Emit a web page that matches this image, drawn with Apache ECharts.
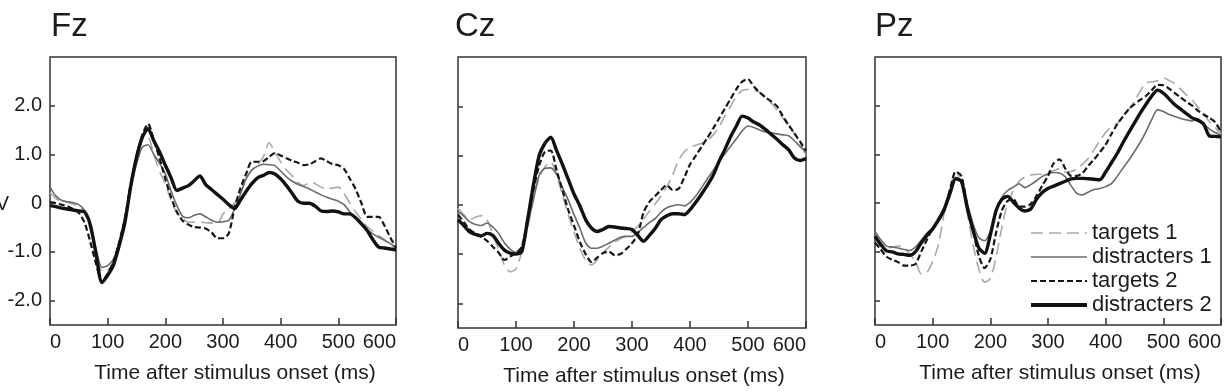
<!DOCTYPE html>
<html>
<head>
<meta charset="utf-8">
<script src="https://cdn.jsdelivr.net/npm/echarts@6/dist/echarts.min.js"></script>
<style>
  html, body { margin: 0; padding: 0; background: #fff; }
  #chart { width: 1224px; height: 392px; }
</style>
</head>
<body>
<div id="chart"></div>
<script>
// 时间轴（ms），每 10ms 一个采样点
const times = [];
for (let t = 0; t <= 600; t += 10) times.push(t);

const panels = ["Fz", "Cz", "Pz"];
const seriesNames = ["targets 1", "distracters 1", "targets 2", "distracters 2"];
const yTicks = [-2, -1, 0, 1, 2];

// Fz
const fzTargets1 = [0.22,0.1,0.04,0.02,-0.02,-0.06,-0.2,-0.55,-1.0,-1.4,-1.38,-1.2,-0.8,-0.25,0.35,0.85,1.3,1.35,1.0,0.65,0.4,0.05,-0.2,-0.32,-0.39,-0.39,-0.39,-0.4,-0.41,-0.42,-0.22,-0.12,0.0,0.2,0.5,0.68,0.8,0.95,1.24,1.05,0.85,0.68,0.56,0.42,0.36,0.42,0.4,0.33,0.29,0.31,0.33,0.2,0.0,-0.18,-0.33,-0.48,-0.58,-0.66,-0.75,-0.85,-0.96];
const fzDistracters1 = [0.33,0.15,0.06,0.03,0.01,-0.03,-0.15,-0.45,-0.95,-1.32,-1.28,-1.15,-0.8,-0.3,0.3,0.8,1.15,1.2,1.0,0.82,0.6,0.25,-0.05,-0.27,-0.3,-0.25,-0.22,-0.28,-0.35,-0.39,-0.38,-0.35,-0.12,0.18,0.5,0.68,0.76,0.8,0.79,0.77,0.66,0.54,0.45,0.39,0.34,0.29,0.23,0.17,0.12,0.08,0.04,-0.03,-0.18,-0.32,-0.45,-0.55,-0.63,-0.7,-0.76,-0.83,-0.9];
const fzTargets2 = [0.02,0.0,-0.03,-0.06,-0.12,-0.2,-0.4,-0.8,-1.25,-1.6,-1.45,-1.2,-0.8,-0.3,0.4,0.95,1.4,1.63,1.3,0.92,0.5,0.12,-0.18,-0.36,-0.44,-0.49,-0.5,-0.52,-0.6,-0.72,-0.72,-0.62,-0.1,0.3,0.6,0.85,0.85,0.86,0.95,1.03,0.98,0.92,0.87,0.83,0.78,0.8,0.86,0.92,0.86,0.8,0.78,0.7,0.5,0.29,0.0,-0.28,-0.28,-0.28,-0.46,-0.7,-0.92];
const fzDistracters2 = [-0.05,-0.07,-0.1,-0.12,-0.14,-0.16,-0.18,-0.45,-1.05,-1.63,-1.48,-1.27,-0.87,-0.39,0.35,0.94,1.35,1.53,1.28,1.05,0.78,0.52,0.26,0.31,0.36,0.46,0.56,0.38,0.28,0.18,0.08,-0.03,-0.11,0.06,0.24,0.4,0.52,0.57,0.63,0.6,0.5,0.36,0.2,0.04,0.0,0.0,-0.06,-0.16,-0.17,-0.16,-0.18,-0.22,-0.22,-0.3,-0.42,-0.56,-0.75,-0.9,-0.92,-0.94,-0.96];

// Cz
const czTargets1 = [-0.07,-0.2,-0.3,-0.25,-0.22,-0.3,-0.6,-0.9,-1.22,-1.36,-1.3,-0.95,-0.48,0.12,0.55,0.77,0.87,0.6,0.2,-0.2,-0.55,-0.88,-1.12,-1.22,-1.12,-0.97,-0.86,-0.76,-0.69,-0.63,-0.55,-0.43,-0.29,-0.13,0.02,0.18,0.37,0.6,0.9,1.07,1.17,1.21,1.25,1.31,1.42,1.58,1.8,2.0,2.2,2.32,2.34,2.32,2.29,2.2,2.07,1.92,1.76,1.6,1.45,1.25,1.0];
const czDistracters1 = [-0.13,-0.23,-0.34,-0.4,-0.42,-0.37,-0.45,-0.58,-0.77,-0.9,-0.97,-0.9,-0.4,0.1,0.6,0.74,0.75,0.62,0.35,0.1,-0.2,-0.47,-0.77,-0.88,-0.88,-0.84,-0.78,-0.72,-0.66,-0.64,-0.64,-0.56,-0.46,-0.36,-0.28,-0.15,-0.06,-0.02,0.0,-0.02,0.05,0.18,0.35,0.53,0.7,0.88,1.03,1.19,1.34,1.5,1.6,1.57,1.52,1.48,1.46,1.44,1.42,1.4,1.3,1.18,1.07];
const czTargets2 = [-0.2,-0.35,-0.5,-0.58,-0.65,-0.73,-0.85,-0.97,-1.12,-1.05,-0.98,-0.85,-0.3,0.3,0.8,1.08,1.1,0.7,0.3,-0.1,-0.42,-0.75,-1.0,-1.16,-1.07,-0.98,-0.95,-1.02,-1.0,-0.9,-0.78,-0.6,-0.15,0.06,0.18,0.3,0.4,0.3,0.32,0.55,0.82,1.0,1.18,1.36,1.55,1.75,1.95,2.15,2.35,2.5,2.55,2.4,2.28,2.18,2.1,2.0,1.8,1.62,1.45,1.28,1.1];
const czDistracters2 = [-0.3,-0.42,-0.55,-0.6,-0.63,-0.58,-0.62,-0.78,-0.92,-0.98,-1.0,-0.95,-0.3,0.4,1.0,1.25,1.37,1.1,0.82,0.52,0.22,-0.02,-0.3,-0.47,-0.54,-0.5,-0.44,-0.45,-0.47,-0.48,-0.5,-0.62,-0.74,-0.62,-0.48,-0.3,-0.22,-0.18,-0.18,-0.2,-0.1,0.05,0.22,0.4,0.6,0.88,1.12,1.38,1.6,1.8,1.76,1.68,1.62,1.53,1.43,1.33,1.22,1.12,0.95,0.9,0.94];

// Pz
const pzTargets1 = [-0.71,-0.82,-0.92,-0.9,-0.88,-0.9,-1.05,-1.19,-1.45,-1.42,-1.2,-0.85,-0.2,0.3,0.65,0.4,-0.2,-0.85,-1.35,-1.62,-1.55,-1.1,-0.5,0.0,0.26,0.45,0.54,0.58,0.59,0.6,0.63,0.67,0.71,0.64,0.65,0.7,0.8,0.92,1.1,1.28,1.45,1.57,1.64,1.78,1.92,2.1,2.3,2.47,2.49,2.51,2.57,2.52,2.45,2.34,2.22,2.12,1.97,1.82,1.67,1.55,1.42];
const pzDistracters1 = [-0.58,-0.75,-0.88,-0.9,-0.92,-0.95,-0.97,-0.9,-0.76,-0.62,-0.5,-0.3,-0.08,0.27,0.53,0.42,0.0,-0.42,-0.71,-0.77,-0.58,-0.17,0.12,0.26,0.33,0.4,0.32,0.38,0.46,0.55,0.6,0.63,0.62,0.54,0.36,0.2,0.17,0.23,0.28,0.3,0.34,0.4,0.55,0.72,0.88,1.06,1.25,1.47,1.72,1.92,1.88,1.82,1.78,1.74,1.71,1.69,1.73,1.63,1.52,1.45,1.39];
const pzTargets2 = [-0.81,-0.95,-1.1,-1.16,-1.21,-1.28,-1.28,-1.25,-1.0,-0.75,-0.52,-0.33,-0.15,0.28,0.65,0.55,-0.05,-0.55,-1.08,-1.33,-1.15,-0.6,-0.15,0.05,0.08,-0.07,-0.07,-0.02,0.15,0.36,0.56,0.82,0.9,0.71,0.56,0.56,0.62,0.77,0.9,1.05,1.2,1.42,1.62,1.78,1.93,2.03,2.12,2.2,2.32,2.43,2.42,2.35,2.26,2.17,2.08,2.0,1.9,1.82,1.75,1.66,1.46];
const pzDistracters2 = [-0.68,-0.85,-0.98,-1.0,-1.04,-1.05,-1.07,-1.0,-0.82,-0.66,-0.53,-0.35,-0.13,0.2,0.5,0.45,-0.1,-0.55,-0.92,-1.03,-0.65,-0.15,0.08,0.14,0.02,-0.1,-0.16,-0.12,0.08,0.22,0.3,0.35,0.4,0.45,0.5,0.51,0.51,0.5,0.49,0.48,0.64,0.83,1.02,1.24,1.45,1.65,1.85,2.03,2.2,2.32,2.26,2.14,2.02,1.93,1.84,1.75,1.7,1.62,1.38,1.37,1.36];

const panelData = [
  [fzTargets1, fzDistracters1, fzTargets2, fzDistracters2],
  [czTargets1, czDistracters1, czTargets2, czDistracters2],
  [pzTargets1, pzDistracters1, pzTargets2, pzDistracters2],
];

const font = "'Liberation Sans', Arial, Helvetica, sans-serif";
const textColor = "#1c1c1c";

const lineStyles = [
  { color: "#a9a9a9", width: 1.6, type: [12, 6] },
  { color: "#6b6b6b", width: 1.6, type: "solid" },
  { color: "#161616", width: 2.2, type: [6, 3] },
  { color: "#111111", width: 3.4, type: "solid" },
];

const grids = [
  { left: 50, top: 57, width: 346, height: 268 },
  { left: 458, top: 57, width: 348, height: 273 },
  { left: 875, top: 57, width: 346, height: 268 },
];
const titleLeft = [51, 455, 875];

const chart = echarts.init(document.getElementById("chart"));

const series = [];
panelData.forEach((rows, p) => {
  rows.forEach((vals, k) => {
    series.push({
      name: seriesNames[k],
      type: "line",
      xAxisIndex: p,
      yAxisIndex: p,
      showSymbol: false,
      symbol: "none",
      smooth: 0.25,
      color: lineStyles[k].color,
      lineStyle: lineStyles[k],
      data: times.map((t, i) => [t, vals[i]]),
    });
  });
});

const option = {
  animation: false,
  backgroundColor: "#fff",
  title: panels.map((name, i) => ({
    text: name,
    left: titleLeft[i],
    top: 10,
    padding: 0,
    textStyle: { fontSize: 33, fontWeight: "normal", color: textColor, fontFamily: font },
  })),
  legend: {
    data: seriesNames.map((name, k) => ({
      name: name,
      lineStyle: { width: k === 3 ? 4 : lineStyles[k].width },
    })),
    orient: "vertical",
    left: 1029,
    top: 222,
    itemWidth: 56,
    itemHeight: 14,
    itemGap: 2,
    padding: 0,
    itemStyle: { opacity: 0 },
    textStyle: { fontSize: 22, color: textColor, fontFamily: font },
  },
  grid: grids.map((g) => ({
    ...g,
    show: true,
    borderColor: "#333",
    borderWidth: 1.5,
    containLabel: false,
  })),
  xAxis: grids.map((g, i) => ({
    gridIndex: i,
    type: "value",
    min: 0,
    max: 600,
    interval: 100,
    axisLine: { show: false, onZero: false },
    axisTick: { show: true, inside: true, length: 7, lineStyle: { color: "#333", width: 1.5 } },
    axisLabel: {
      fontSize: 20,
      color: textColor,
      fontFamily: font,
      margin: 7,
      alignMinLabel: "left",
      alignMaxLabel: "right",
    },
    splitLine: { show: false },
    name: "Time after stimulus onset (ms)",
    nameLocation: "middle",
    nameGap: 38,
    nameTextStyle: { fontSize: 21, color: textColor, fontFamily: font, padding: [0, 0, 0, 24] },
  })),
  yAxis: grids.map((g, i) => ({
    gridIndex: i,
    type: "value",
    min: -2.5,
    max: 3,
    axisLine: { show: false, onZero: false },
    axisTick: { show: true, inside: true, length: 5, customValues: yTicks, lineStyle: { color: "#333", width: 1.5 } },
    axisLabel: {
      show: i === 0,
      customValues: yTicks,
      formatter: (v) => (v === 0 ? "0" : v.toFixed(1)),
      fontSize: 20,
      color: textColor,
      fontFamily: font,
      margin: 8,
    },
    splitLine: { show: false },
  })),
  graphic: [
    {
      type: "text",
      style: {
        text: "μV",
        x: 9,
        y: 204,
        align: "right",
        verticalAlign: "middle",
        fontSize: 20,
        fontFamily: font,
        fill: textColor,
      },
    },
  ],
  series: series,
};

chart.setOption(option);
</script>
</body>
</html>
